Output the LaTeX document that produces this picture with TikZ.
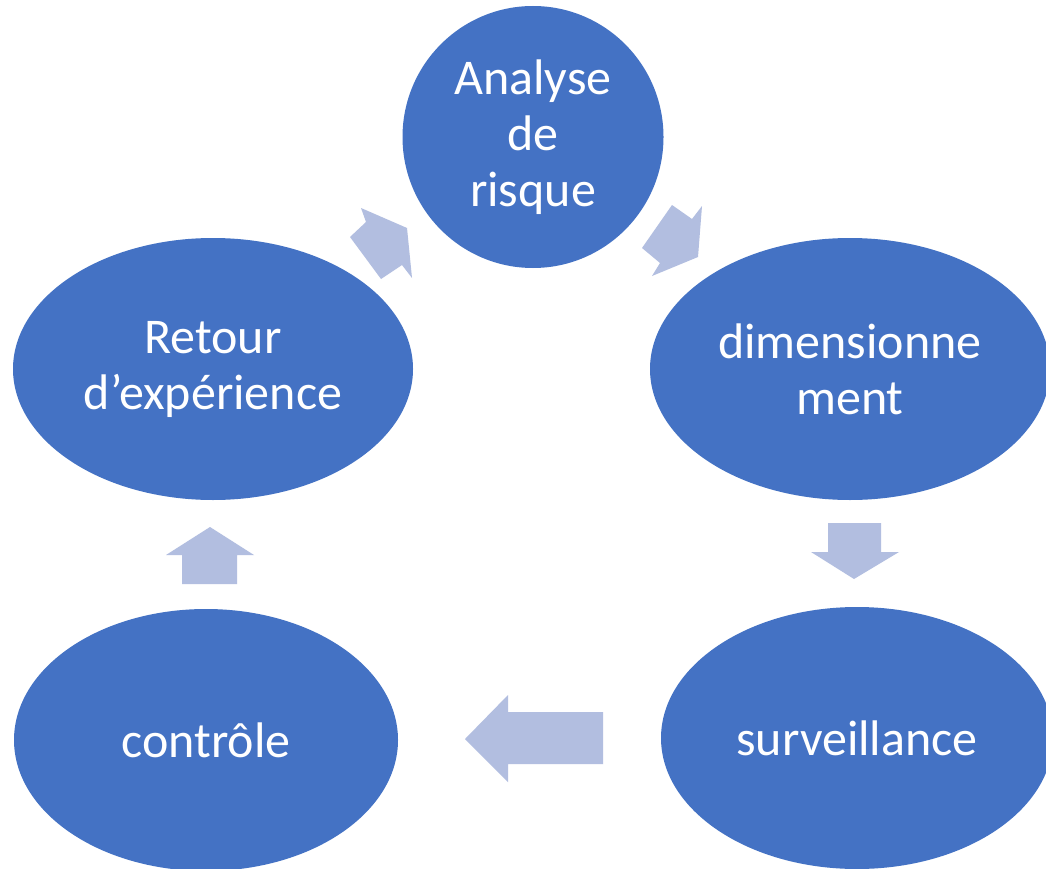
\documentclass[tikz,border=0pt]{standalone}
\usepackage{fontspec}
\setmainfont{Carlito}
\usetikzlibrary{shapes.geometric}
\definecolor{ovalblue}{HTML}{4472C4}
\definecolor{arrowblue}{RGB}{178,190,224}
\begin{document}
\begin{tikzpicture}[x=1pt,y=-1pt,
  oval/.style={ellipse, fill=ovalblue, draw=none, inner sep=0pt, text=white,
    align=center, font=\fontsize{50}{56}\selectfont},
  blockarrow/.style={fill=arrowblue, draw=none}]
\clip (0,0) rectangle (1046,869);
\fill[white] (0,0) rectangle (1046,869);
\node[oval, minimum width=261pt, minimum height=262pt] (ana) at (533,137) {Analyse\\de\\risque};
\node[oval, minimum width=400pt, minimum height=262pt] (dim) at (850,369) {dimensionne\\ment};
\node[oval, minimum width=392pt, minimum height=262pt] (sur) at (857,738) {surveillance};
\node[oval, minimum width=384pt, minimum height=262pt] (con) at (206,740) {contrôle};
\node[oval, minimum width=400pt, minimum height=262pt] (ret) at (213,369) {Retour\\d’expérience};
% arrows
\fill[blockarrow] (672,205) -- (692,219) -- (702,206) -- (698,257) -- (652,276) -- (660,263) -- (642,248) -- cycle;
\fill[blockarrow] (828,523) -- (881,523) -- (881,552) -- (899,552) -- (854,579) -- (811,552) -- (828,552) -- cycle;
\fill[blockarrow] (603,712) -- (603,764) -- (508,764) -- (508,782) -- (465,739) -- (508,695) -- (508,712) -- cycle;
\fill[blockarrow] (182,584) -- (237,584) -- (237,555) -- (254,555) -- (210,527) -- (166,555) -- (182,555) -- cycle;
\fill[blockarrow] (350,237) -- (366,222) -- (361,208) -- (407,228) -- (412,278) -- (402,265) -- (381,279) -- cycle;
\end{tikzpicture}
\end{document}
